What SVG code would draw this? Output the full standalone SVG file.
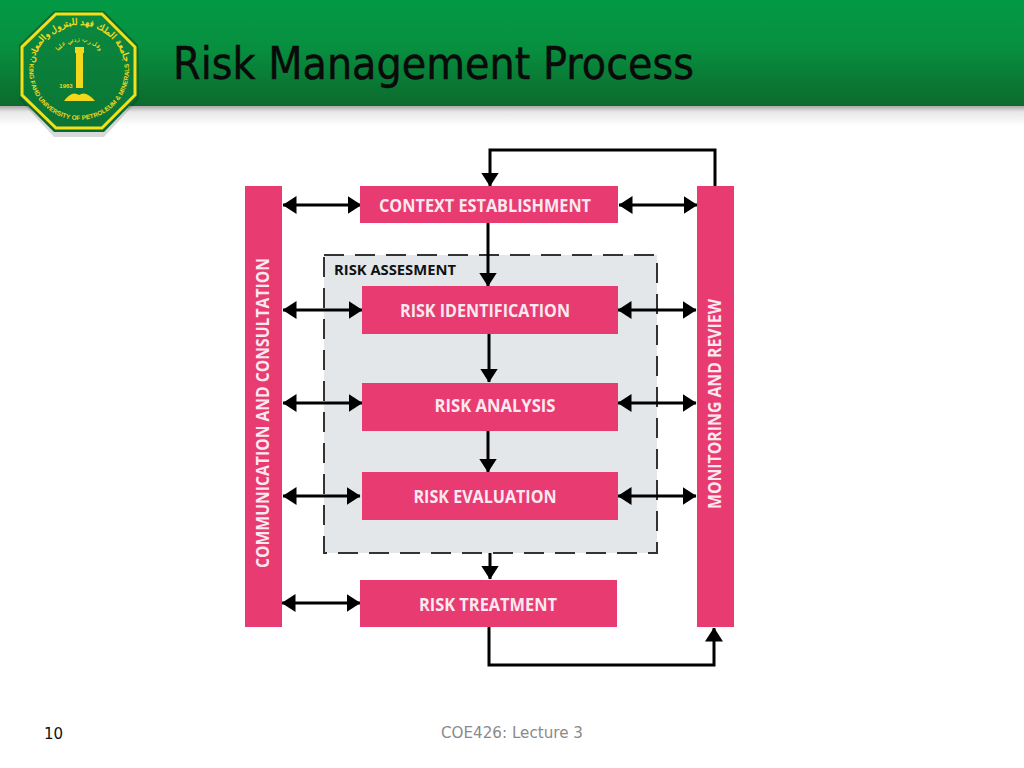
<svg xmlns="http://www.w3.org/2000/svg" width="1024" height="768" viewBox="0 0 1024 768">
<style>
.bar{fill:#e83b72}
.lbl{font-family:"Open Sans","Noto Sans",sans-serif;font-weight:700;font-size:17.5px;fill:#fbe9ef;text-anchor:middle}
.ln{fill:none;stroke:#000;stroke-width:3}
.seal{font-family:"Liberation Sans",sans-serif;font-weight:700;fill:#f2d81c}
</style>
<defs>
<linearGradient id="hdr" x1="0" y1="0" x2="0" y2="1"><stop offset="0" stop-color="#039a45"/><stop offset="0.45" stop-color="#078f3f"/><stop offset="1" stop-color="#0c6a2d"/></linearGradient>
<linearGradient id="shd" x1="0" y1="0" x2="0" y2="1"><stop offset="0" stop-color="#a8a8a8"/><stop offset="0.3" stop-color="#e8e8e8"/><stop offset="1" stop-color="#fff"/></linearGradient>
<linearGradient id="oct" x1="0" y1="0" x2="0" y2="1"><stop offset="0" stop-color="#0a8a40"/><stop offset="1" stop-color="#0a7434"/></linearGradient>
<marker id="a" viewBox="0 0 14 18" refX="13.5" refY="9" markerWidth="14" markerHeight="18" markerUnits="userSpaceOnUse" orient="auto-start-reverse"><path d="M0 0L14 9L0 18Z" fill="#000"/></marker>
<path id="ringTop" d="M33 71A46 46 0 0 1 125 71"/>
<path id="ringIn" d="M52 62A28 28 0 0 1 106 62"/>
<path id="ringBot" d="M30 60A50 50 0 1 0 128 60"/>
</defs>
<rect width="1024" height="768" fill="#fff"/>
<rect x="0" y="106" width="1024" height="20" fill="url(#shd)"/>
<rect x="0" y="0" width="1024" height="106" fill="url(#hdr)"/>
<g id="logo">
<path d="M54 13H104L139 47V97L104 135H54L19 97V47Z" fill="#000" opacity=".15" transform="translate(0 2)"/>
<path d="M54 11H104L138 45V97L104 132H54L19 97V45Z" fill="#0a6a30"/>
<path d="M56 14H102L135 47V95L102 128H56L22 95V47Z" fill="url(#oct)" stroke="#f2e01a" stroke-width="3"/>
<text class="seal" font-size="6.4"><textPath href="#ringBot" startOffset="50%" text-anchor="middle">KING FAHD UNIVERSITY OF PETROLEUM &amp; MINERALS</textPath></text>
<text class="seal" font-size="9" style="font-family:'Noto Sans',sans-serif"><textPath href="#ringTop" startOffset="50%" text-anchor="middle">جامعة الملك فهد للبترول والمعادن</textPath></text>
<text class="seal" font-size="5.5" style="font-family:'Noto Sans',sans-serif"><textPath href="#ringIn" startOffset="50%" text-anchor="middle">وقل رب زدني علما</textPath></text>
<rect x="76" y="52" width="7" height="36" fill="#f2d81c"/>
<rect x="75" y="47" width="9" height="6" fill="#f2d81c"/>
<path d="M64 101Q72 90 79 95Q86 90 95 101Z" fill="#f2d81c"/>
<text class="seal" x="66" y="88" font-size="6" text-anchor="middle">1963</text>
</g>
<text id="title" x="173" y="79" font-family="'DejaVu Sans',sans-serif" font-size="44" textLength="521" lengthAdjust="spacingAndGlyphs" fill="#0a0a0a" stroke="#0a0a0a" stroke-width="0.5">Risk Management Process</text>
<g id="risk-assessment">
<rect x="324" y="255" width="333" height="298" fill="#e3e7ea" stroke="#333" stroke-width="2" stroke-dasharray="20 11"/>
<text x="334" y="275" font-family="'Open Sans','Noto Sans',sans-serif" font-weight="700" font-size="14.5" textLength="122" lengthAdjust="spacingAndGlyphs" fill="#111">RISK ASSESMENT</text>
</g>
<g id="connectors">
<path class="ln" d="M715 187V150H490V186" marker-end="url(#a)"/>
<path class="ln" d="M488 223V286" marker-end="url(#a)"/>
<path class="ln" d="M489 333V382" marker-end="url(#a)"/>
<path class="ln" d="M488 430V472" marker-end="url(#a)"/>
<path class="ln" d="M490 553V579" marker-end="url(#a)"/>
<path class="ln" d="M489 627V665H714V628" marker-end="url(#a)"/>
<path class="ln" d="M283 205H361" marker-start="url(#a)" marker-end="url(#a)"/>
<path class="ln" d="M619 205H697" marker-start="url(#a)" marker-end="url(#a)"/>
<path class="ln" d="M283 310H362" marker-start="url(#a)" marker-end="url(#a)"/>
<path class="ln" d="M618 310H696" marker-start="url(#a)" marker-end="url(#a)"/>
<path class="ln" d="M283 403H362" marker-start="url(#a)" marker-end="url(#a)"/>
<path class="ln" d="M618 403H696" marker-start="url(#a)" marker-end="url(#a)"/>
<path class="ln" d="M283 496H360" marker-start="url(#a)" marker-end="url(#a)"/>
<path class="ln" d="M618 496H696" marker-start="url(#a)" marker-end="url(#a)"/>
<path class="ln" d="M282 603H360" marker-start="url(#a)" marker-end="url(#a)"/>
</g>
<g id="communication"><rect class="bar" x="245" y="186" width="37" height="441"/><text class="lbl" transform="translate(269 413) rotate(-90)" textLength="310" lengthAdjust="spacingAndGlyphs">COMMUNICATION AND CONSULTATION</text></g>
<g id="monitoring"><rect class="bar" x="697" y="186" width="37" height="441"/><text class="lbl" transform="translate(721 404) rotate(-90)" textLength="210" lengthAdjust="spacingAndGlyphs">MONITORING AND REVIEW</text></g>
<g id="context"><rect class="bar" x="360" y="186" width="258" height="37"/><text class="lbl" x="485" y="212" textLength="212" lengthAdjust="spacingAndGlyphs">CONTEXT ESTABLISHMENT</text></g>
<g id="identification"><rect class="bar" x="362" y="286" width="256" height="48"/><text class="lbl" x="485" y="317" textLength="170" lengthAdjust="spacingAndGlyphs">RISK IDENTIFICATION</text></g>
<g id="analysis"><rect class="bar" x="362" y="383" width="256" height="48"/><text class="lbl" x="495" y="412" textLength="121" lengthAdjust="spacingAndGlyphs">RISK ANALYSIS</text></g>
<g id="evaluation"><rect class="bar" x="362" y="472" width="256" height="48"/><text class="lbl" x="485" y="503" textLength="143" lengthAdjust="spacingAndGlyphs">RISK EVALUATION</text></g>
<g id="treatment"><rect class="bar" x="360" y="580" width="257" height="47"/><text class="lbl" x="488" y="611" textLength="138" lengthAdjust="spacingAndGlyphs">RISK TREATMENT</text></g>
<text id="page" x="44" y="739" font-family="'DejaVu Sans',sans-serif" font-size="15" fill="#111">10</text>
<text id="footer" x="512" y="738" font-family="'DejaVu Sans',sans-serif" font-size="15" fill="#8a8a8a" text-anchor="middle" textLength="142" lengthAdjust="spacingAndGlyphs">COE426: Lecture 3</text>
</svg>
